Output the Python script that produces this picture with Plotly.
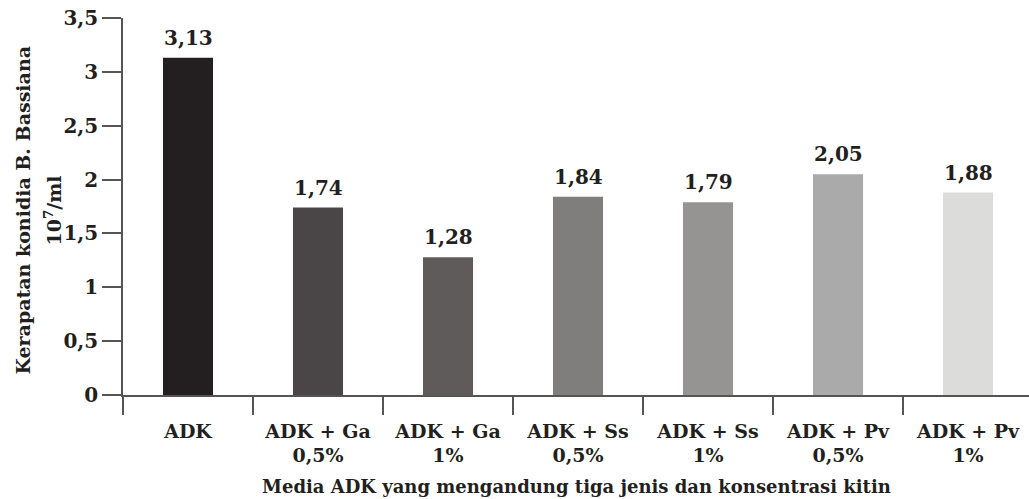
import plotly.graph_objects as go

categories = ["ADK", "ADK + Ga<br>0,5%", "ADK + Ga<br>1%", "ADK + Ss<br>0,5%",
              "ADK + Ss<br>1%", "ADK + Pv<br>0,5%", "ADK + Pv<br>1%"]
values = [3.13, 1.74, 1.28, 1.84, 1.79, 2.05, 1.88]
value_labels = ["3,13", "1,74", "1,28", "1,84", "1,79", "2,05", "1,88"]
bar_colors = ["#231f20", "#4a4647", "#5f5b5b", "#7f7e7d", "#959493", "#aaaaaa", "#dcdcdb"]
y_tickvals = [0, 0.5, 1, 1.5, 2, 2.5, 3, 3.5]
y_ticktext = ["0", "0,5", "1", "1,5", "2", "2,5", "3", "3,5"]
y_title_lines = ["Kerapatan konidia B. Bassiana", "10<sup>7</sup>/ml"]
x_title = "Media ADK yang mengandung tiga jenis dan konsentrasi kitin"

FONT = "DejaVu Serif"
TXT = "#231f20"
AX = "#555555"

fig = go.Figure()
fig.add_trace(go.Bar(
    x=categories, y=values,
    marker=dict(color=bar_colors, line=dict(width=0)),
    width=0.385,
    hoverinfo="skip",
))

for c, v, t in zip(categories, values, value_labels):
    fig.add_annotation(x=c, y=v, text="<b>%s</b>" % t, showarrow=False,
                       yanchor="bottom", yshift=6,
                       font=dict(family=FONT, size=20, color=TXT))

# x-axis title
fig.add_annotation(xref="paper", yref="paper", x=0.5, y=-0.243,
                   xanchor="center", yanchor="middle", showarrow=False,
                   text="<b>%s</b>" % x_title,
                   font=dict(family=FONT, size=18, color=TXT))
# y-axis title (two lines)
for xp, line in zip([-0.110, -0.077], y_title_lines):
    fig.add_annotation(xref="paper", yref="paper", x=xp, y=0.49,
                       xanchor="center", yanchor="middle", showarrow=False,
                       textangle=-90, text="<b>%s</b>" % line,
                       font=dict(family=FONT, size=19, color=TXT))

fig.update_layout(
    width=1029, height=499,
    margin=dict(l=123, r=0, t=18, b=104),
    paper_bgcolor="white", plot_bgcolor="white",
    showlegend=False,
    font=dict(family=FONT, color=TXT),
)
fig.update_xaxes(
    type="category",
    range=[-0.5, 6.469],
    tickson="boundaries",
    ticks="outside", ticklen=18, tickwidth=1.5, tickcolor=AX,
    ticklabelstandoff=18,
    showline=True, linecolor=AX, linewidth=1.5,
    showgrid=False, zeroline=False,
    tickfont=dict(family=FONT, size=19, color=TXT),
    tickprefix="<b>", ticksuffix="</b>",
)
fig.update_yaxes(
    range=[0, 3.5001],
    tickvals=y_tickvals, ticktext=["<b>%s</b>" % t for t in y_ticktext],
    ticks="outside", ticklen=19, tickwidth=1.5, tickcolor=AX,
    showline=True, linecolor=AX, linewidth=1.5,
    showgrid=False, zeroline=False,
    tickfont=dict(family=FONT, size=20, color=TXT),
)

fig.write_html("out.html",
               config={"displayModeBar": False},
               post_script="document.body.style.margin='0';document.body.style.overflow='hidden';")
